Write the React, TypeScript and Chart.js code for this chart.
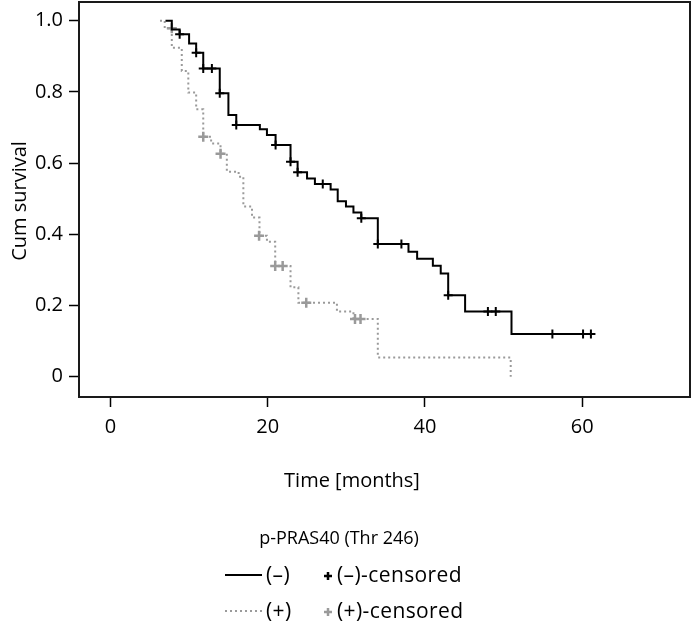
import React, { useEffect, useRef } from 'react';
import { Chart, registerables } from 'chart.js';

Chart.register(...registerables);

// (–) group: Kaplan–Meier step points (time in months, cumulative survival)
const negTimes = [7.0, 7.8, 8.8, 10.0, 10.9, 11.8, 13.9, 15.0, 16.0, 19.0, 19.9, 21.0, 22.9, 23.8, 25.0, 26.0, 28.0, 28.9, 29.95, 30.9, 31.9, 34.0, 37.9, 39.0, 41.0, 42.0, 42.95, 45.1, 51.0, 61.2];
const negSurv = [1.0, 0.975, 0.962, 0.936, 0.91, 0.866, 0.796, 0.735, 0.707, 0.695, 0.679, 0.651, 0.604, 0.574, 0.557, 0.541, 0.526, 0.493, 0.478, 0.461, 0.445, 0.373, 0.351, 0.331, 0.312, 0.29, 0.229, 0.183, 0.12, 0.12];
// (–) censored marks
const negCensT = [8.8, 10.9, 11.8, 12.9, 13.9, 16.0, 21.0, 22.9, 23.8, 27.0, 31.9, 34.0, 37.0, 42.95, 48.0, 49.0, 56.2, 60.1, 61.1];
const negCensS = [0.962, 0.91, 0.866, 0.866, 0.796, 0.707, 0.651, 0.604, 0.574, 0.541, 0.445, 0.373, 0.373, 0.229, 0.183, 0.183, 0.12, 0.12, 0.12];

// (+) group
const posTimes = [6.3, 6.9, 7.8, 9.07, 9.9, 10.9, 11.8, 12.8, 14.0, 14.8, 16.3, 16.9, 18.0, 18.95, 19.9, 20.95, 22.9, 23.9, 28.8, 30.9, 34.0, 50.9];
const posSurv = [1.0, 0.979, 0.924, 0.859, 0.798, 0.751, 0.674, 0.655, 0.626, 0.576, 0.562, 0.478, 0.447, 0.396, 0.379, 0.311, 0.251, 0.208, 0.183, 0.162, 0.054, 0.0];
// (+) censored marks
const posCensT = [7.8, 11.8, 14.0, 18.9, 20.95, 21.9, 24.9, 31.1, 31.8];
const posCensS = [0.979, 0.674, 0.626, 0.396, 0.311, 0.311, 0.208, 0.162, 0.162];

const xTicks = [0, 20, 40, 60];
const yTicks = [0, 0.2, 0.4, 0.6, 0.8, 1.0];

const xTitle = 'Time [months]';
const yTitle = 'Cum survival';
const legendTitle = 'p-PRAS40 (Thr 246)';
const legendLabels = ['(–)', '(–)-censored', '(+)', '(+)-censored'];

const FONT = '"Open Sans", "Noto Sans", sans-serif';
const BLACK = '#000000';
const GRAY = '#9a9a9a';

const pts = (t: number[], s: number[]) => t.map((x, i) => ({ x, y: s[i] }));

const zeroPad = (s: any) => {
  s.paddingTop = 0;
  s.paddingBottom = 0;
  s.paddingLeft = 0;
  s.paddingRight = 0;
};

export default function App() {
  const ref = useRef<HTMLCanvasElement | null>(null);

  useEffect(() => {
    const canvas = ref.current;
    if (!canvas) return;

    const drawCross = (ctx: CanvasRenderingContext2D, x: number, y: number, r: number, color: string, w: number) => {
      ctx.save();
      ctx.strokeStyle = color;
      ctx.lineWidth = w;
      ctx.beginPath();
      ctx.moveTo(x - r, y);
      ctx.lineTo(x + r, y);
      ctx.moveTo(x, y - r);
      ctx.lineTo(x, y + r);
      ctx.stroke();
      ctx.restore();
    };

    const decor = {
      id: 'decor',
      beforeDatasetsDraw(chart: any) {
        const { ctx, chartArea } = chart;
        ctx.save();
        ctx.strokeStyle = '#1a1a1a';
        ctx.lineWidth = 2;
        ctx.strokeRect(chartArea.left, chartArea.top, chartArea.right - chartArea.left, chartArea.bottom - chartArea.top);
        ctx.restore();
      },
      afterDraw(chart: any) {
        const { ctx } = chart;
        ctx.save();
        ctx.fillStyle = '#000';
        ctx.textBaseline = 'middle';
        // axis titles
        ctx.font = `20px ${FONT}`;
        ctx.textAlign = 'center';
        ctx.fillText(xTitle, 352, 481);
        ctx.save();
        ctx.translate(20, 201);
        ctx.rotate(-Math.PI / 2);
        ctx.fillText(yTitle, 0, 0);
        ctx.restore();

        // legend
        ctx.font = `18px ${FONT}`;
        ctx.fillText(legendTitle, 339, 539);
        ctx.textAlign = 'left';
        ctx.font = `21px ${FONT}`;
        (ctx as any).letterSpacing = '0.4px';
        // row 1
        ctx.strokeStyle = BLACK;
        ctx.lineWidth = 2;
        ctx.beginPath();
        ctx.moveTo(225, 575);
        ctx.lineTo(262, 575);
        ctx.stroke();
        ctx.fillText(legendLabels[0], 266, 576);
        drawCross(ctx, 328, 576, 4, BLACK, 2.5);
        ctx.fillText(legendLabels[1], 337, 576);
        // row 2
        ctx.strokeStyle = GRAY;
        ctx.setLineDash([2, 3]);
        ctx.beginPath();
        ctx.moveTo(225, 611);
        ctx.lineTo(262, 611);
        ctx.stroke();
        ctx.setLineDash([]);
        ctx.fillText(legendLabels[2], 266, 612);
        drawCross(ctx, 328, 612, 4, GRAY, 2.5);
        ctx.fillText(legendLabels[3], 337, 612);
        ctx.restore();
      },
    };

    const chart = new Chart(canvas, {
      type: 'line',
      data: {
        datasets: [
          {
            label: '(–)',
            data: pts(negTimes, negSurv),
            stepped: 'before',
            borderColor: BLACK,
            borderWidth: 2,
            pointRadius: 0,
            fill: false,
          },
          {
            label: '(–)-censored',
            data: pts(negCensT, negCensS),
            showLine: false,
            pointStyle: 'cross',
            pointRadius: 4.5,
            borderColor: BLACK,
            backgroundColor: BLACK,
            pointBorderWidth: 2,
          },
          {
            label: '(+)',
            data: pts(posTimes, posSurv),
            stepped: 'before',
            borderColor: GRAY,
            borderWidth: 2,
            borderDash: [2, 3],
            pointRadius: 0,
            fill: false,
          },
          {
            label: '(+)-censored',
            data: pts(posCensT, posCensS),
            showLine: false,
            pointStyle: 'cross',
            pointRadius: 5,
            borderColor: GRAY,
            backgroundColor: GRAY,
            pointBorderWidth: 2.5,
          },
        ],
      } as any,
      options: {
        animation: false,
        responsive: false,
        devicePixelRatio: 1,
        layout: { autoPadding: false, padding: { left: 0, top: 2, right: 2, bottom: 191 } },
        plugins: { legend: { display: false }, tooltip: { enabled: false } },
        scales: {
          x: {
            type: 'linear',
            min: -4,
            max: 73.7,
            afterBuildTicks: (s: any) => {
              s.ticks = xTicks.map((v) => ({ value: v }));
            },
            afterFit: (s: any) => {
              s.height = 40;
              zeroPad(s);
            },
            grid: { display: true, drawOnChartArea: false, drawTicks: true, tickLength: 10, tickColor: '#000', tickWidth: 1.5 },
            border: { display: false },
            ticks: {
              color: '#000',
              padding: 8,
              maxRotation: 0,
              font: { family: FONT, size: 20 },
              callback: (v: any) => String(v),
            },
          },
          y: {
            type: 'linear',
            min: -0.057,
            max: 1.0525,
            afterBuildTicks: (s: any) => {
              s.ticks = yTicks.map((v) => ({ value: v }));
            },
            afterFit: (s: any) => {
              s.width = 79;
              zeroPad(s);
            },
            grid: { display: true, drawOnChartArea: false, drawTicks: true, tickLength: 10, tickColor: '#000', tickWidth: 1.5 },
            border: { display: false },
            ticks: {
              color: '#000',
              padding: 6,
              font: { family: FONT, size: 20 },
              callback: (v: any) => (v === 0 ? '0' : Number(v).toFixed(1)),
            },
          },
        },
      } as any,
      plugins: [decor],
    });

    return () => chart.destroy();
  }, []);

  return (
    <div style={{ position: 'fixed', left: 0, top: 0, width: 692, height: 628, background: '#fff' }}>
      <canvas ref={ref} width={692} height={628} style={{ display: 'block', width: 692, height: 628 }} />
    </div>
  );
}
